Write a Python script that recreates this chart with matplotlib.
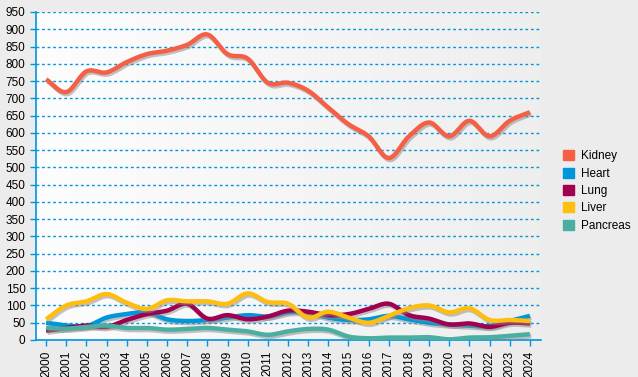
import numpy as np
import matplotlib
matplotlib.use('Agg')
import matplotlib.pyplot as plt
import matplotlib.patheffects as pe
from matplotlib.patches import Rectangle

plt.rcParams['font.family'] = ['Liberation Sans', 'DejaVu Sans']

years = list(range(2000, 2025))
kidney = [755, 718, 778, 775, 805, 828, 838, 855, 885, 828, 815, 745, 745, 722, 673,
          625, 590, 527, 590, 630, 590, 635, 590, 635, 660]
heart = [50, 42, 40, 65, 75, 80, 60, 55, 58, 65, 72, 68, 80, 80, 65,
         58, 60, 70, 60, 50, 45, 42, 40, 55, 70]
lung = [27, 35, 42, 38, 58, 75, 85, 105, 62, 72, 60, 68, 85, 82, 72,
        75, 90, 105, 72, 62, 45, 48, 38, 50, 48]
liver = [60, 100, 112, 133, 108, 90, 115, 112, 112, 105, 135, 110, 105, 65, 82,
         65, 50, 70, 92, 100, 80, 92, 58, 58, 55]
pancreas = [35, 33, 38, 42, 35, 35, 30, 32, 35, 30, 25, 15, 25, 32, 30,
            10, 5, 7, 7, 8, 2, 7, 8, 12, 17]

names = ['Kidney', 'Heart', 'Lung', 'Liver', 'Pancreas']
colors = ['#f55f45', '#0096db', '#a0004f', '#ffbe0f', '#4aafa0']
series = [kidney, heart, lung, liver, pancreas]


def smooth(x, y, n=12):
    # catmull-rom curve through the points, only for drawing
    x = np.asarray(x, float)
    y = np.asarray(y, float)
    px = np.concatenate([[2 * x[0] - x[1]], x, [2 * x[-1] - x[-2]]])
    py = np.concatenate([[2 * y[0] - y[1]], y, [2 * y[-1] - y[-2]]])
    xs, ys = [], []
    t = np.linspace(0, 1, n, endpoint=False)
    for i in range(1, len(px) - 2):
        for p, out in ((px, xs), (py, ys)):
            p0, p1, p2, p3 = p[i - 1], p[i], p[i + 1], p[i + 2]
            out.extend(0.5 * (2 * p1 + (-p0 + p2) * t
                              + (2 * p0 - 5 * p1 + 4 * p2 - p3) * t ** 2
                              + (-p0 + 3 * p1 - 3 * p2 + p3) * t ** 3))
    xs.append(x[-1])
    ys.append(y[-1])
    return np.array(xs), np.array(ys)


fig = plt.figure(figsize=(6.38, 3.77), dpi=100)
fig.patch.set_facecolor('#ececec')
ax = fig.add_axes([36 / 638, 1 - 340 / 377, (541 - 36) / 638, (340 - 12) / 377])

grad = np.linspace(0, 1, 256).reshape(1, -1)
ax.imshow(grad, extent=[1999.5, 2024.55, 0, 950], aspect='auto',
          cmap=matplotlib.colors.LinearSegmentedColormap.from_list('bg', ['#fdfdfd', '#eeeeee']),
          zorder=0)

for vals, c, name in zip(series, colors, names):
    sx, sy = smooth(years, vals)
    ax.plot(sx, sy, color=c, lw=3.2, solid_capstyle='butt', zorder=3,
            path_effects=[pe.SimpleLineShadow(offset=(1, -1.5), shadow_color='#888888', alpha=0.5),
                          pe.Normal()])

ax.set_xlim(1999.5, 2024.55)
ax.set_ylim(0, 950)
ax.set_yticks(range(0, 951, 50))
ax.set_xticks(years)
ax.set_xticklabels([str(y) for y in years], rotation=90, fontsize=8.5)
ax.tick_params(axis='y', labelsize=8.5, length=4, color='#0096db', width=1)
ax.tick_params(axis='x', length=4, color='#0096db', width=1)
ax.grid(axis='y', color='#0096db', linestyle=(0, (2, 2)), lw=1)
ax.set_axisbelow(True)
for s in ['top', 'right']:
    ax.spines[s].set_visible(False)
for s in ['left', 'bottom']:
    ax.spines[s].set_color('#0096db')
    ax.spines[s].set_linewidth(1.2)

handles = [Rectangle((0, 0), 1, 1, color=c) for c in colors]
leg = fig.legend(handles, names, loc='upper left', bbox_to_anchor=(554 / 638, 1 - 141 / 377),
                 frameon=False, fontsize=8.5, handlelength=0.9, handleheight=0.9,
                 handletextpad=0.6, labelspacing=0.45, borderpad=0.3)

fig.savefig('out.png', dpi=100, facecolor=fig.get_facecolor())
